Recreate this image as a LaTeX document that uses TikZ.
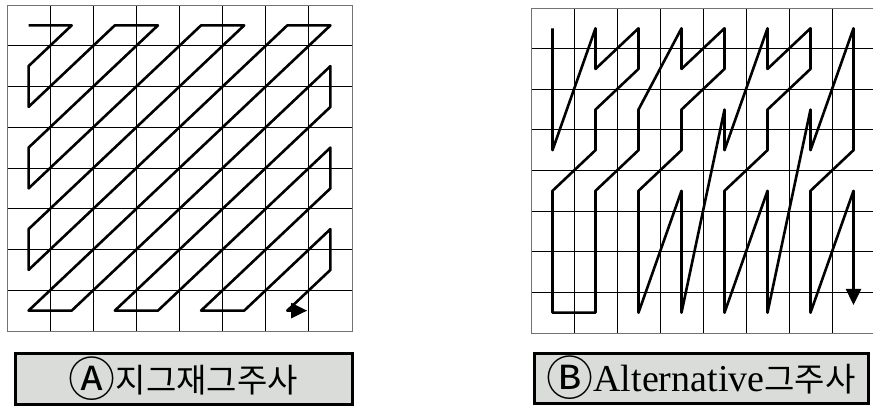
\documentclass[tikz,border=0pt]{standalone}
\usepackage{fontspec}
\newfontfamily\krfont{Noto Sans CJK KR}
\newfontfamily\lafont{Liberation Serif}
\usetikzlibrary{arrows.meta}
\definecolor{boxgray}{HTML}{D9DCD8}
\newcommand{\circmark}[1]{\raisebox{-0.12em}{\fontsize{47pt}{47pt}\selectfont #1}}
\tikzset{
  gridline/.style={black, line width=0.8pt},
  gridframe/.style={black!55, line width=1pt},
  scanline/.style={black, line width=2.6pt, line join=round},
  scantip/.style={-{Triangle[length=16pt,width=15pt]}},
  labelbox/.style={draw=black, fill=boxgray, line width=3pt, inner sep=0pt,
    font=\fontsize{33pt}{36pt}\selectfont}
}
\begin{document}
\begin{tikzpicture}[x=1pt, y=-1pt]
\useasboundingbox (0,0) rectangle (873,407);

% 왼쪽 격자 (지그재그)
\begin{scope}[shift={(7,5)}, x=43.125pt, y=-40.75pt]
\foreach \k in {1,...,7} {
  \draw[gridline] (\k,0) -- (\k,8);
  \draw[gridline] (0,\k) -- (8,\k);
}
\draw[gridframe] (0,0) rectangle (8,8);
\begin{scope}[shift={(0.5,0.5)}]
\draw[scanline, scantip] (0,0) -- (1,0) -- (0,1) -- (0,2) -- (2,0) -- (3,0)
  -- (0,3) -- (0,4) -- (4,0) -- (5,0) -- (0,5) -- (0,6) -- (6,0) -- (7,0)
  -- (0,7) -- (1,7) -- (7,1) -- (7,2) -- (2,7) -- (3,7) -- (7,3) -- (7,4)
  -- (4,7) -- (5,7) -- (7,5) -- (7,6) -- (6,7) -- (6.46,7);
\end{scope}
\end{scope}

% 오른쪽 격자 (alternative)
\begin{scope}[shift={(531,8)}, x=43pt, y=-40.625pt]
\foreach \k in {1,...,7} {
  \draw[gridline] (\k,0) -- (\k,8);
  \draw[gridline] (0,\k) -- (8,\k);
}
\draw[gridframe] (0,0) rectangle (8,8);
\begin{scope}[shift={(0.5,0.5)}]
\draw[scanline, scantip] (0,0) -- (0,3) -- (1,0) -- (1,1) -- (2,0) -- (2,1)
  -- (1,2) -- (1,3) -- (0,4) -- (0,7) -- (1,7) -- (1,4) -- (2,3) -- (2,2)
  -- (3,0) -- (3,1) -- (4,0) -- (4,1) -- (3,2) -- (3,3) -- (2,4) -- (2,7)
  -- (3,4) -- (3,7) -- (4,2) -- (4,3) -- (5,0) -- (5,1) -- (6,0) -- (6,1)
  -- (5,2) -- (5,3) -- (4,4) -- (4,7) -- (5,4) -- (5,7) -- (6,2) -- (6,3)
  -- (7,0) -- (7,3) -- (6,4) -- (6,7) -- (7,4) -- (7,6.81);
\end{scope}
\end{scope}

% 이름표
\node[labelbox, minimum width=337pt, minimum height=51pt] (zigzag) at (183.5,379)
  {\krfont\circmark{Ⓐ}지그재그주사};
\node[labelbox, minimum width=334pt, minimum height=50pt] (altscan) at (701,378)
  {\krfont\circmark{Ⓑ}{\lafont\fontsize{38pt}{40pt}\selectfont Alternative}그주사};

\end{tikzpicture}
\end{document}
